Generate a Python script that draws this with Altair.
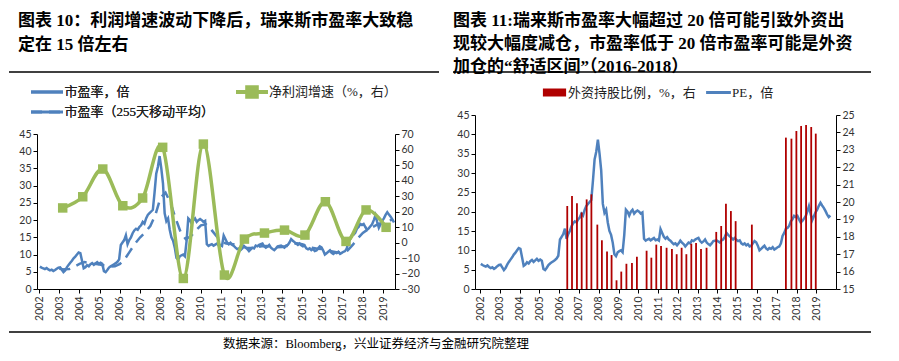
import altair as alt
import pandas as pd

# ---------------- data ----------------
YEARS = list(range(2002, 2020))

# monthly PE (x), Jan..Dec
PE_2002 = [6.5, 6.2, 6.0, 5.8, 6.1, 5.7, 5.4, 5.6, 5.2, 5.5, 5.9, 6.2]
PE_2003 = [6.3, 5.6, 4.9, 5.4, 6.3, 7.0, 7.6, 8.2, 8.9, 9.4, 10.0, 10.6]
PE_2004 = [10.4, 8.2, 6.0, 6.3, 6.9, 6.6, 7.2, 7.5, 7.0, 7.4, 7.8, 7.3]
PE_2005 = [7.6, 7.3, 5.2, 4.9, 5.5, 6.2, 6.6, 6.9, 7.2, 7.5, 7.9, 8.6]
PE_2006 = [12.8, 13.5, 14.2, 15.6, 13.0, 14.2, 15.0, 16.2, 17.0, 17.5, 17.2, 18.0]
PE_2007 = [18.5, 19.5, 19.0, 20.5, 21.5, 22.0, 22.5, 23.0, 28.0, 33.5, 35.5, 38.6]
PE_2008 = [35.0, 30.7, 22.0, 19.7, 20.5, 17.2, 15.0, 14.0, 12.0, 9.0, 8.5, 9.5]
PE_2009 = [9.8, 10.0, 9.5, 14.0, 20.5, 20.0, 19.0, 20.0, 20.5, 19.5, 20.0, 20.3]
PE_2010 = [20.0, 19.5, 19.8, 13.0, 12.5, 12.8, 13.0, 12.6, 12.9, 13.2, 12.6, 12.8]
PE_2011 = [12.5, 15.5, 14.5, 13.5, 13.0, 13.4, 12.8, 12.5, 12.0, 11.6, 11.8, 11.3]
PE_2012 = [11.8, 12.5, 12.0, 11.6, 11.0, 11.5, 12.0, 11.8, 12.6, 12.4, 12.8, 13.0]
PE_2013 = [13.2, 12.4, 12.0, 12.3, 12.8, 12.0, 11.6, 11.3, 11.8, 12.4, 12.5, 12.6]
PE_2014 = [12.3, 12.0, 12.6, 12.8, 13.5, 14.5, 14.0, 13.6, 13.2, 12.8, 13.2, 12.7]
PE_2015 = [12.4, 12.6, 11.8, 11.5, 11.8, 11.3, 11.6, 11.0, 11.2, 11.8, 12.4, 12.1]
PE_2016 = [11.2, 10.0, 10.4, 10.8, 11.2, 10.5, 10.2, 10.6, 10.4, 10.8, 10.2, 10.5]
PE_2017 = [10.8, 11.0, 11.8, 13.7, 14.5, 15.6, 15.8, 16.3, 17.5, 18.0, 18.9, 18.6]
PE_2018 = [18.9, 18.0, 17.2, 17.6, 18.2, 18.8, 20.0, 21.4, 19.5, 17.8, 18.8, 19.8]
PE_2019 = [20.5, 21.5, 22.3, 21.6, 21.0, 20.2, 19.3, 18.6, 19.0]

# 255-day moving average of PE (quarterly readings)
MA_X = [2003.0, 2003.25, 2003.5, 2003.75, 2004.0, 2004.25, 2004.5, 2004.75,
        2005.0, 2005.25, 2005.5, 2005.75, 2006.0, 2006.25, 2006.5, 2006.75,
        2007.0, 2007.25, 2007.5, 2007.75, 2008.0, 2008.25, 2008.5, 2008.75,
        2009.0, 2009.25, 2009.5, 2009.75, 2010.0, 2010.25, 2010.5, 2010.75,
        2011.0, 2011.25, 2011.5, 2011.75, 2012.0, 2012.25, 2012.5, 2012.75,
        2013.0, 2013.25, 2013.5, 2013.75, 2014.0, 2014.25, 2014.5, 2014.75,
        2015.0, 2015.25, 2015.5, 2015.75, 2016.0, 2016.25, 2016.5, 2016.75,
        2017.0, 2017.25, 2017.5, 2017.75, 2018.0, 2018.25, 2018.5, 2018.75,
        2019.0, 2019.25, 2019.5]
MA_V = [5.9, 5.7, 5.8, 6.5, 7.3, 7.8, 7.6, 7.3,
        7.1, 6.8, 6.5, 6.6, 7.3, 8.8, 11.0, 13.2,
        15.0, 16.5, 18.3, 21.5, 26.5, 28.0, 25.0, 20.5,
        16.5, 14.5, 15.3, 17.0, 18.5, 18.8, 17.3, 15.5,
        13.8, 13.2, 13.1, 12.8, 12.4, 12.0, 11.9, 12.1,
        12.4, 12.5, 12.2, 12.1, 12.2, 12.5, 13.0, 13.3,
        13.0, 12.5, 12.0, 11.7, 11.6, 11.2, 10.9, 10.6,
        10.6, 11.2, 12.8, 14.7, 16.3, 17.3, 18.0, 18.8,
        19.3, 19.8, 20.2]

# net profit growth (%, right axis), annual
PROFIT_X = [2003.17, 2004.16, 2005.15, 2006.14, 2007.12, 2008.11, 2009.13, 2010.12,
            2011.16, 2012.15, 2013.14, 2014.13, 2015.14, 2016.15, 2017.17, 2018.16, 2019.15]
PROFIT_V = [22.3, 29.5, 47.4, 23.7, 28.7, 61.4, -23.2, 63.5,
            -21.0, 2.2, 6.1, 8.0, 4.8, 26.3, 0.7, 21.0, 9.8]

# foreign holding ratio (%, right axis), quarterly
FOREIGN_X = [2006.41, 2006.65, 2006.90, 2007.14, 2007.39, 2007.63, 2007.93, 2008.16,
             2008.42, 2008.65, 2008.90, 2009.14, 2009.40, 2009.68, 2009.93, 2010.42,
             2010.66, 2010.91, 2011.15, 2011.43, 2011.70, 2011.94, 2012.19, 2012.43,
             2012.68, 2012.92, 2013.17, 2013.45, 2013.94, 2014.19, 2014.43, 2014.68,
             2014.92, 2015.74, 2017.46, 2017.74, 2017.99, 2018.23, 2018.48, 2018.74,
             2018.97]
FOREIGN_V = [19.77, 20.34, 19.93, 19.40, 20.15, 20.44, 18.70, 17.80,
             17.15, 16.95, 15.50, 16.00, 16.45, 16.50, 16.85, 17.20,
             16.80, 17.55, 17.47, 17.37, 17.30, 17.00, 17.37, 17.00,
             17.60, 17.65, 17.30, 17.37, 18.28, 18.62, 19.90, 19.48,
             18.90, 18.70, 23.70, 23.64, 24.08, 24.37, 24.43, 24.31,
             23.93]

TITLE_L = ["图表 10：利润增速波动下降后，瑞来斯市盈率大致稳", "定在 15 倍左右"]
TITLE_R = ["图表 11:瑞来斯市盈率大幅超过 20 倍可能引致外资出",
           "现较大幅度减仓，市盈率低于 20 倍市盈率可能是外资",
           "加仓的“舒适区间”（2016-2018）"]
SOURCE = "数据来源：Bloomberg，兴业证券经济与金融研究院整理"

PE_NAME = "市盈率，倍"
MA_NAME = "市盈率（255天移动平均）"
PROFIT_NAME = "净利润增速（%，右）"
FOREIGN_NAME = "外资持股比例，%，右"
PE_R_NAME = "PE，倍"

# ---------------- tables ----------------
PE = (PE_2002 + PE_2003 + PE_2004 + PE_2005 + PE_2006 + PE_2007 + PE_2008 + PE_2009
      + PE_2010 + PE_2011 + PE_2012 + PE_2013 + PE_2014 + PE_2015 + PE_2016 + PE_2017
      + PE_2018 + PE_2019)
PE_X = [2002 + i / 12 + 1 / 24 for i in range(len(PE))]

blue_df = pd.DataFrame({
    "x": PE_X + MA_X,
    "v": PE + MA_V,
    "s": [PE_NAME] * len(PE) + [MA_NAME] * len(MA_V),
})
profit_df = pd.DataFrame({"x": PROFIT_X, "v": PROFIT_V, "s": PROFIT_NAME})
foreign_df = pd.DataFrame({"x": FOREIGN_X, "v": FOREIGN_V, "s": FOREIGN_NAME})
pe_r_df = pd.DataFrame({"x": PE_X, "v": PE, "s": PE_R_NAME})
one = pd.DataFrame({"k": [0]})

# ---------------- style ----------------
BLUE = "#4F81BD"
GREEN = "#9BBB59"
RED = "#B00000"
AX = "#000000"
LAB = "#333333"
CJK = "Liberation Serif, Noto Sans CJK SC"
NUM = "Lato"
H = 174
WL, WR = 358, 361


def yaxis(values, orient):
    return alt.Axis(values=values, orient=orient, title=None, grid=False, tickSize=4,
                    labelPadding=2, domainColor=AX, tickColor=AX, labelFont=NUM,
                    labelFontSize=10.5, labelColor=LAB)


def xenc(lo, hi):
    return alt.X("x:Q", scale=alt.Scale(domain=[lo, hi], nice=False, zero=False),
                 axis=alt.Axis(values=YEARS, format="d", labelAngle=-90, title=None,
                               grid=False, tickSize=4, labelPadding=3, domainColor=AX,
                               tickColor=AX, labelFont=NUM, labelFontSize=10.5,
                               labelColor=LAB))


def title_mark(lines, dx, lh):
    return alt.Chart(one).mark_text(align="left", baseline="top", font=CJK, fontSize=17,
                                    fontWeight="bold", lineHeight=lh, color="#000").encode(
        x=alt.value(dx), y=alt.value(-102), text=alt.value(lines))


def rule_mark(x1, x2, y):
    return alt.Chart(one).mark_rule(color="#000", strokeWidth=1.3).encode(
        x=alt.value(x1), x2=alt.value(x2), y=alt.value(y))


def legend(lx, ly, path, sw, offset, stroke_color=None):
    extra = {"symbolStrokeColor": stroke_color} if stroke_color else {}
    return alt.Legend(title=None, orient="none", legendX=lx, legendY=ly, direction="vertical",
                      symbolType=path, symbolSize=256, symbolStrokeWidth=sw,
                      labelFont=CJK, labelFontSize=13, labelColor="#222", labelOffset=offset,
                      rowPadding=3, padding=0, **extra)


# ---------------- left chart ----------------
xl = xenc(2001.9, 2019.59)
blue_leg = legend(0.5, -32.5, "M-2,0H2", 3, 8, BLUE)
blue = alt.Chart(blue_df).transform_filter("datum.x <= 2019.56").mark_line(
    strokeWidth=2.5, clip=True).encode(
    x=xl,
    y=alt.Y("v:Q", scale=alt.Scale(domain=[0, 45], range=[H, 19], nice=False, zero=False),
            axis=yaxis(list(range(0, 46, 5)), "left")),
    color=alt.Color("s:N", scale=alt.Scale(domain=[PE_NAME, MA_NAME], range=[BLUE, BLUE]),
                    legend=blue_leg),
    strokeDash=alt.StrokeDash("s:N", scale=alt.Scale(domain=[PE_NAME, MA_NAME],
                                                     range=[[], [11, 7]]),
                              legend=blue_leg),
)

gy = alt.Y("v:Q", scale=alt.Scale(domain=[-30, 70], range=[H, 19], nice=False, zero=False),
           axis=yaxis(list(range(-30, 71, 10)), "right"))
green_line = alt.Chart(profit_df).mark_line(color=GREEN, strokeWidth=3.5,
                                            interpolate="cardinal", clip=True).encode(
    x=xl, y=gy)
green_pts = alt.Chart(profit_df).mark_square(size=90, opacity=1).encode(
    x=xl, y=gy,
    color=alt.Color("s:N", scale=alt.Scale(domain=[PROFIT_NAME], range=[GREEN]),
                    legend=alt.Legend(title=None, orient="none", legendX=205, legendY=-33,
                                      symbolType="M-2,0H2M-0.6,-0.6H0.6V0.6H-0.6Z",
                                      symbolSize=256, symbolStrokeWidth=4,
                                      symbolStrokeColor=GREEN, symbolFillColor=GREEN,
                                      labelFont=CJK, labelFontSize=13, labelColor="#222",
                                      labelOffset=7, padding=0)),
)
green = alt.layer(green_line, green_pts)

left = alt.layer(
    blue, green,
    title_mark(TITLE_L, -19, 24),
    rule_mark(-28, 402, -43),
).resolve_scale(y="independent", color="independent").properties(width=WL, height=H)

# ---------------- right chart ----------------
xr = xenc(2002.0, 2019.74)
pe_line = alt.Chart(pe_r_df).mark_line(strokeWidth=2.5, clip=True).encode(
    x=xr,
    y=alt.Y("v:Q", scale=alt.Scale(domain=[0, 45], nice=False, zero=False),
            axis=yaxis(list(range(0, 46, 5)), "left")),
    color=alt.Color("s:N", scale=alt.Scale(domain=[PE_R_NAME], range=[BLUE]),
                    legend=legend(234, -32, "M-1.55,0H1.55", 3, 4, BLUE)),
)
bars = alt.Chart(foreign_df).mark_bar(size=1.8, clip=True).encode(
    x=xr,
    y=alt.Y("v:Q", scale=alt.Scale(domain=[15, 25], nice=False, zero=False),
            axis=yaxis(list(range(15, 26, 1)), "right")),
    y2=alt.datum(15),
    color=alt.Color("s:N", scale=alt.Scale(domain=[FOREIGN_NAME], range=[RED]),
                    legend=legend(71.5, -30.5, "M-1.45,-0.5H1.45V0.5H-1.45Z", 0, 5.5)),
)

right = alt.layer(
    pe_line, bars,
    title_mark(TITLE_R, -22, 23),
    rule_mark(-22, 396, -43),
).resolve_scale(y="independent", color="independent").properties(width=WR, height=H)

# ---------------- footer ----------------
footer = alt.layer(
    alt.Chart(one).mark_rule(color="#000", strokeWidth=1.3).encode(
        x=alt.value(-28), x2=alt.value(834), y=alt.value(0)),
    alt.Chart(one).mark_text(align="left", baseline="middle", font=CJK, fontSize=12.5,
                             color="#000").encode(
        x=alt.value(186), y=alt.value(12), text=alt.value(SOURCE)),
).properties(width=1, height=1)

chart = alt.vconcat(
    alt.hconcat(left, right, spacing=12),
    footer,
    spacing=10,
).properties(padding={"left": 0, "top": 4, "right": 6, "bottom": 6}).configure_view(stroke=None)

chart.save("out.html", embed_options={"renderer": "svg", "actions": False})
